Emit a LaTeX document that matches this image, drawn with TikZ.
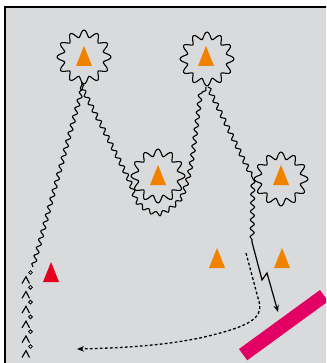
\documentclass[tikz,border=0pt]{standalone}
\usetikzlibrary{decorations.pathmorphing,arrows.meta}
\definecolor{bggray}{RGB}{217,218,220}
\definecolor{conecol}{RGB}{240,130,0}
\definecolor{redcol}{RGB}{228,0,30}
\definecolor{barcol}{RGB}{226,0,100}
\begin{document}
\begin{tikzpicture}[x=1pt,y=-1pt,
  wave/.style={decorate,decoration={snake,amplitude=2pt,segment length=8.5pt},line width=1.1pt},
  dotline/.style={line width=1.3pt,dash pattern=on 2.8pt off 2.2pt},
  pics/conetri/.style={code={\fill[#1] (0,-10) -- (8,10) -- (-8,10) -- cycle;}},
  pics/spiky/.style={code={\draw[line width=1.1pt] plot[domain=0:357,samples=120,smooth cycle]
      ({(23.5+3.5*cos(12*\x))*cos(\x)},{(23.5+3.5*cos(12*\x))*sin(\x)});}},
  pics/player/.style={code={
      \draw[line width=0.8pt] (4.5,0) circle (1.9);
      \draw[line width=1.1pt] (-4,11) -- (0,4.2) -- (3.5,11);}}]
\useasboundingbox (0,0) rectangle (326,363);
\clip (0,0) rectangle (326,363);
\fill[bggray] (5,7) rectangle (330,370);
\draw[line width=1.4pt] (5,370) -- (5,7) -- (330,7);
% bar
\fill[barcol] (239,349) -- (320,290) -- (328.2,301.3) -- (247.2,360.3) -- cycle;
% stars
\coordinate (s1) at (84,57);
\coordinate (s2) at (207,59);
\coordinate (s3) at (158,176);
\coordinate (s4) at (281,179);
\pic at (s1) {spiky};
\pic at (s2) {spiky};
\pic at (s3) {spiky};
\pic at (s4) {spiky};
\pic at (84,56) {conetri=conecol};
\pic at (206,56) {conetri=conecol};
\pic at (158,175) {conetri=conecol};
\pic at (281,175) {conetri=conecol};
\pic at (217,258) {conetri=conecol};
\pic at (282,258) {conetri=conecol};
\pic at (51,272) {conetri=redcol};
% players
\foreach \k in {0,...,5} {\pic at (26,{272.5+14.8*\k}) {player};}
% route
\coordinate (start) at (33,267);
\coordinate (b1) at (83,86);
\coordinate (b2a) at (206,87);
\coordinate (b2b) at (208,87);
\coordinate (l4) at (253,179);
\coordinate (low) at (252,242);
\coordinate (z1) at (262,280);
\coordinate (z2) at (267,273);
\coordinate (tip) at (278,312);
\draw[wave] (start) -- (b1);
\draw[wave] plot[smooth] coordinates {(84,86) (131,178) (142,205) (163,216) (184,202) (193,178) (198,150) (206,87)};
\draw[wave] (b2b) -- (l4);
\draw[wave] (l4) -- (low);
\draw[line width=1.2pt,-{Stealth[length=7pt,width=5.5pt]}] (low) -- (z1) -- (z2) -- (tip);
% dotted return
\coordinate (d0) at (246,253);
\coordinate (dend) at (77,349);
\draw[dotline,-{Stealth[length=7pt,width=5.5pt]}] (d0) -- (258,298) .. controls (265,318) and (252,326) .. (200,338) .. controls (160,346) and (120,348) .. (dend);
\end{tikzpicture}
\end{document}
